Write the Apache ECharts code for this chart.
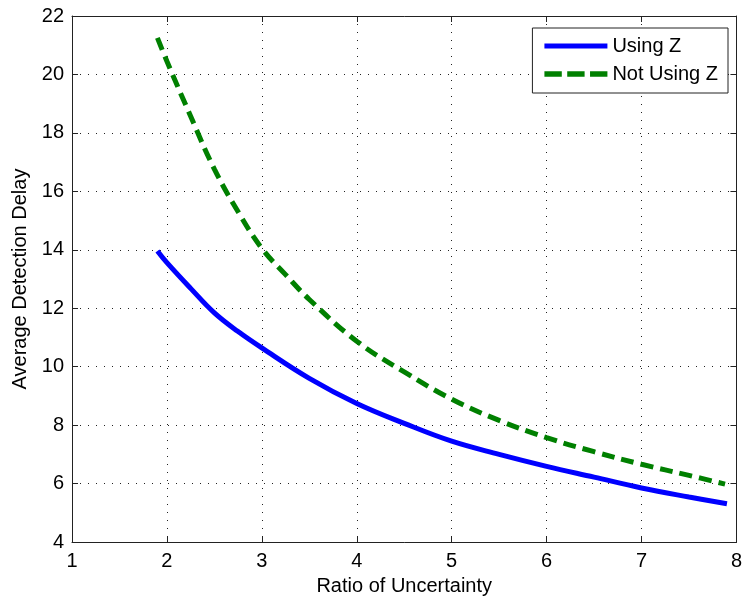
<!DOCTYPE html>
<html>
<head>
<meta charset="utf-8">
<script src="https://cdn.jsdelivr.net/npm/echarts@6/dist/echarts.min.js"></script>
<style>
  html, body { margin: 0; padding: 0; background: #fff; }
  #chart { width: 745px; height: 601px; }
</style>
</head>
<body>
<div id="chart"></div>
<script>
// ratio of uncertainty (x) and detection delay (y)
var usingX = [1.9, 2, 2.25, 2.5, 2.75, 3, 3.5, 4, 4.5, 5, 5.5, 6, 6.5, 7, 7.5, 7.9]
var usingY = [13.96, 13.56, 12.68, 11.84, 11.2, 10.64, 9.6, 8.74, 8.06, 7.45, 7.0, 6.59, 6.22, 5.85, 5.54, 5.31]
var notUsingX = [1.9, 2, 2.25, 2.5, 2.75, 3, 3.25, 3.5, 4, 4.5, 5, 5.5, 6, 6.5, 7, 7.5, 7.88]
var notUsingY = [21.25, 20.45, 18.57, 16.76, 15.3, 14.05, 13.15, 12.3, 10.87, 9.82, 8.89, 8.16, 7.57, 7.09, 6.66, 6.28, 5.98]

function pairs(xs, ys) {
  return xs.map(function (x, i) { return [x, ys[i]] })
}

var font = 'Liberation Sans, Arial, sans-serif'
var gridLine = { show: true, lineStyle: { color: '#222', width: 1, type: [1, 7] } }
var axisLine = { show: true, onZero: false, lineStyle: { color: '#222', width: 1 } }
var tick = { show: true, inside: true, length: 6, lineStyle: { color: '#222' } }

var chart = echarts.init(document.getElementById('chart'))
chart.setOption({
  animation: false,
  backgroundColor: '#fff',
  grid: { left: 72, right: 4, top: 16, bottom: 56 },
  legend: {
    orient: 'vertical',
    right: 17,
    top: 28,
    padding: [8, 10, 9, 12],
    itemGap: 8,
    itemWidth: 63,
    itemHeight: 14,
    backgroundColor: '#fff',
    borderColor: '#222',
    borderWidth: 1,
    borderRadius: 0,
    textStyle: { fontFamily: font, fontSize: 20, color: '#000' },
    data: [
      { name: 'Using Z', icon: 'path://M0,0h63v5h-63z' },
      { name: 'Not Using Z', icon: 'path://M5,0h16v5h-16z M26,0h16v5h-16z M47,0h16v5h-16z' }
    ]
  },
  xAxis: [{
    type: 'value',
    min: 1,
    max: 8,
    interval: 1,
    name: 'Ratio of Uncertainty',
    nameLocation: 'middle',
    nameGap: 34,
    nameTextStyle: { fontFamily: font, fontSize: 20, color: '#000' },
    axisLine: axisLine,
    axisTick: tick,
    axisLabel: { fontFamily: font, fontSize: 20, color: '#000', margin: 9 },
    splitLine: gridLine
  }, {
    type: 'value',
    position: 'top',
    min: 1,
    max: 8,
    interval: 1,
    axisLine: axisLine,
    axisTick: tick,
    axisLabel: { show: false },
    splitLine: { show: false }
  }],
  yAxis: [{
    type: 'value',
    min: 4,
    max: 22,
    interval: 2,
    name: 'Average Detection Delay',
    nameLocation: 'middle',
    nameGap: 37,
    nameTextStyle: { fontFamily: font, fontSize: 20, color: '#000' },
    axisLine: axisLine,
    axisTick: tick,
    axisLabel: { fontFamily: font, fontSize: 20, color: '#000', margin: 8 },
    splitLine: gridLine
  }, {
    type: 'value',
    position: 'right',
    min: 4,
    max: 22,
    interval: 2,
    axisLine: axisLine,
    axisTick: tick,
    axisLabel: { show: false },
    splitLine: { show: false }
  }],
  series: [{
    name: 'Using Z',
    type: 'line',
    smooth: 0.4,
    symbol: 'none',
    itemStyle: { color: '#0000ff' },
    lineStyle: { color: '#0000ff', width: 5 },
    data: pairs(usingX, usingY)
  }, {
    name: 'Not Using Z',
    type: 'line',
    smooth: 0.4,
    symbol: 'none',
    itemStyle: { color: '#008000' },
    lineStyle: { color: '#008000', width: 5, type: [13, 7] },
    data: pairs(notUsingX, notUsingY)
  }]
})
</script>
</body>
</html>
